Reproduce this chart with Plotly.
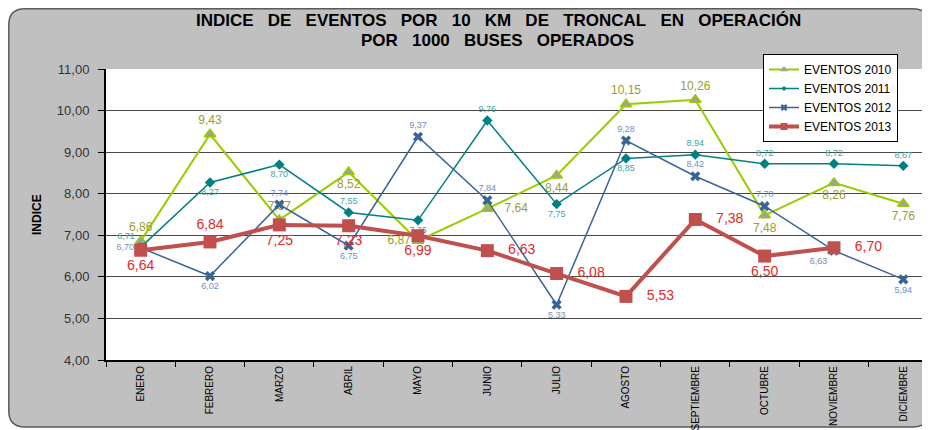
import plotly.graph_objects as go

# The page is shown with an 8px body margin, so the figure is drawn 8px smaller
# and all reference pixel positions below are page positions shifted by OFF.
OFF = 8
W, H = 930 - OFF, 430 - OFF
ML, MR, MT, MB = 106 - OFF, 0, 69 - OFF, 70

meses = ["ENERO", "FEBRERO", "MARZO", "ABRIL", "MAYO", "JUNIO", "JULIO",
         "AGOSTO", "SEPTIEMBRE", "OCTUBRE", "NOVIEMBRE", "DICIEMBRE"]
eventos_2010 = [6.86, 9.43, 7.37, 8.52, 6.87, 7.64, 8.44, 10.15, 10.26, 7.48, 8.26, 7.76]
eventos_2011 = [6.71, 8.27, 8.70, 7.55, 7.36, 9.76, 7.75, 8.85, 8.94, 8.72, 8.72, 8.67]
eventos_2012 = [6.70, 6.02, 7.74, 6.75, 9.37, 7.84, 5.33, 9.28, 8.42, 7.70, 6.63, 5.94]
eventos_2013 = [6.64, 6.84, 7.25, 7.23, 6.99, 6.63, 6.08, 5.53, 7.38, 6.50, 6.70]
y_ticks = [4, 5, 6, 7, 8, 9, 10, 11]

pos_2010 = ["top center", "top center", "top center", "bottom center", "middle left", "middle right",
            "bottom center", "top center", "top center", "bottom center", "bottom center", "bottom center"]
pos_2011 = ["top left", "bottom center", "bottom center", "top center", "bottom center", "top center",
            "bottom center", "bottom center", "top center", "top center", "top center", "top center"]
pos_2012 = ["middle left", "bottom center", "top center", "bottom center", "top center", "top center",
            "bottom center", "top center", "top center", "top center", "bottom left", "bottom center"]
pos_2013 = ["bottom center", "top center", "bottom center", "bottom center", "bottom center", "middle right",
            "middle right", "middle right", "middle right", "bottom center", "middle right"]

SANS = "Liberation Sans, Arial, sans-serif"

def tmpl(positions):
    return ["   %{y:.2f}" if p == "middle right" else "%{y:.2f}" for p in positions]

fig = go.Figure()
fig.add_trace(go.Scatter(
    x=meses, y=eventos_2010, name="EVENTOS 2010", mode="lines+markers+text", showlegend=False,
    line=dict(color="#99CC00", width=2),
    marker=dict(symbol="triangle-up", size=10, color="#A0A0A0", line=dict(color="#99CC00", width=1.5)),
    texttemplate=tmpl(pos_2010), textposition=pos_2010,
    textfont=dict(family=SANS, size=12, color="#9C9C30")))
fig.add_trace(go.Scatter(
    x=meses, y=eventos_2011, name="EVENTOS 2011", mode="lines+markers+text", showlegend=False,
    line=dict(color="#008080", width=1.5),
    marker=dict(symbol="diamond", size=8, color="#008080"),
    texttemplate="%{y:.2f}", textposition=pos_2011,
    textfont=dict(family=SANS, size=9, color="#3CA5A5")))
fig.add_trace(go.Scatter(
    x=meses, y=eventos_2012, name="EVENTOS 2012", mode="lines+markers+text", showlegend=False,
    line=dict(color="#3A6496", width=1.5),
    marker=dict(symbol="x", size=9, color="#3A6496"),
    texttemplate="%{y:.2f}", textposition=pos_2012,
    textfont=dict(family=SANS, size=9, color="#6F8FC0")))
fig.add_trace(go.Scatter(
    x=meses[:len(eventos_2013)], y=eventos_2013, name="EVENTOS 2013", mode="lines+markers+text",
    showlegend=False,
    line=dict(color="#C0504D", width=4),
    marker=dict(symbol="square", size=13, color="#C0504D"),
    texttemplate=tmpl(pos_2013), textposition=pos_2013,
    textfont=dict(family=SANS, size=14, color="#E02A2A")))

# legend entries (small markers as in the reference legend)
legend_items = [
    ("EVENTOS 2010", "#99CC00", 2, "triangle-up", 7, "#A0A0A0"),
    ("EVENTOS 2011", "#008080", 1.5, "diamond", 4, "#008080"),
    ("EVENTOS 2012", "#3A6496", 1.5, "x", 6, "#3A6496"),
    ("EVENTOS 2013", "#C0504D", 4, "square", 7, "#C0504D"),
]
for name, col, lw, sym, ms, mcol in legend_items:
    fig.add_trace(go.Scatter(x=[None], y=[None], name=name, mode="lines+markers",
                             line=dict(color=col, width=lw),
                             marker=dict(symbol=sym, size=ms, color=mcol)))

pw = W - ML - MR
ph = H - MT - MB
def px(x):
    return (x - OFF - ML) / pw
def py(y):
    return (H - MB - (y - OFF)) / ph

def rrect(x0, y0, x1, y1, r):
    return (f"M {px(x0 + r)} {py(y0)} L {px(x1 - r)} {py(y0)} Q {px(x1)} {py(y0)} {px(x1)} {py(y0 + r)} "
            f"L {px(x1)} {py(y1 - r)} Q {px(x1)} {py(y1)} {px(x1 - r)} {py(y1)} "
            f"L {px(x0 + r)} {py(y1)} Q {px(x0)} {py(y1)} {px(x0)} {py(y1 - r)} "
            f"L {px(x0)} {py(y0 + r)} Q {px(x0)} {py(y0)} {px(x0 + r)} {py(y0)} Z")

outer = (f"M {px(-2)} {py(-2)} L {px(W + OFF + 2)} {py(-2)} L {px(W + OFF + 2)} {py(H + OFF + 2)} "
         f"L {px(-2)} {py(H + OFF + 2)} Z ")
inner = rrect(8.8, 8.8, 929, 427, 16)

fig.add_shape(type="path", xref="paper", yref="paper", path=outer + inner, fillrule="evenodd",
              fillcolor="white", line=dict(width=0), layer="below")
fig.add_shape(type="path", xref="paper", yref="paper", path=inner,
              line=dict(color="#5A5A5A", width=1.5), layer="below")

sp = "&nbsp;&nbsp;&nbsp;"
line1 = sp.join(["INDICE", "DE", "EVENTOS", "POR", "10", "KM", "DE", "TRONCAL", "EN", "OPERACIÓN"])
line2 = sp.join(["POR", "1000", "BUSES", "OPERADOS"])
fig.add_annotation(text=f"<b>{line1}</b>", xref="paper", yref="paper", x=px(498), y=py(21),
                   xanchor="center", yanchor="middle", showarrow=False,
                   font=dict(family=SANS, size=17, color="black"))
fig.add_annotation(text=f"<b>{line2}</b>", xref="paper", yref="paper", x=px(497.5), y=py(41),
                   xanchor="center", yanchor="middle", showarrow=False,
                   font=dict(family=SANS, size=17, color="black"))
fig.add_annotation(text="<b>INDICE</b>", xref="paper", yref="paper", x=px(28), y=py(215),
                   textangle=-90, showarrow=False, font=dict(family=SANS, size=12, color="black"))

fig.update_layout(
    width=W, height=H, margin=dict(l=ML, r=MR, t=MT, b=MB, autoexpand=False),
    paper_bgcolor="#C0C0C0", plot_bgcolor="white",
    separators=",.",
    showlegend=True,
    legend=dict(x=px(763), y=py(54), xanchor="left", yanchor="top", bgcolor="white",
                bordercolor="black", borderwidth=1, font=dict(family=SANS, size=12, color="black"),
                tracegroupgap=0),
    xaxis=dict(type="category", categoryorder="array", categoryarray=meses,
               range=[-0.5, 11.385], tickangle=-90, tickson="boundaries", ticks="outside",
               ticklen=5, tickcolor="black", showline=True, linecolor="black", linewidth=2,
               showgrid=False, tickfont=dict(family=SANS, size=10, color="black")),
    yaxis=dict(range=[4, 11], tickvals=y_ticks, tickformat=".2f", ticks="outside", ticklen=6,
               tickcolor="black", showline=True, linecolor="black", linewidth=2,
               gridcolor="#4A4A4A", gridwidth=1, zeroline=False, ticklabelstandoff=6,
               tickfont=dict(family=SANS, size=13, color="#333333")),
)

fig.write_html("out.html")
